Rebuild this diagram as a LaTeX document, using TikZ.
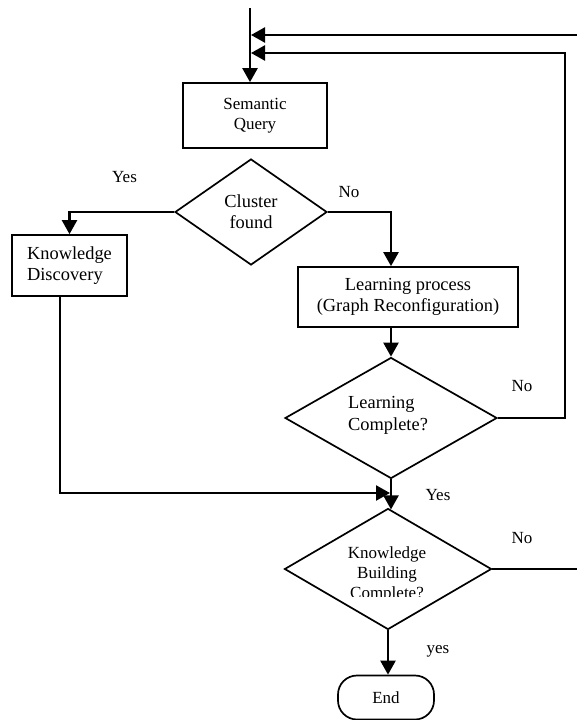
\documentclass[tikz,border=0pt]{standalone}
\usepackage{fontspec}
\setmainfont{Liberation Serif}
\usetikzlibrary{shapes.geometric,arrows.meta}

\tikzset{
  shapeline/.style={draw, line width=1.7pt, inner sep=0pt},
  box/.style={shapeline, rectangle, align=center},
  decision/.style={shapeline, diamond, align=center},
  terminal/.style={shapeline, rectangle, rounded corners=19pt},
  flow/.style={line width=2.3pt, -{Triangle[length=14pt,width=15pt]}},
  wire/.style={line width=2.3pt},
  big/.style={font=\fontsize{18.4}{21}\selectfont},
  mid/.style={font=\fontsize{17}{20}\selectfont},
  tag/.style={font=\fontsize{17}{20}\selectfont, inner sep=0pt},
}

\begin{document}
\begin{tikzpicture}[x=1pt,y=-1pt]
\useasboundingbox (0,0) rectangle (577,720);

% process boxes and decisions
\node[box, mid, minimum width=144pt, minimum height=65pt] (sq) at (255,115.5) {Semantic\\Query};
\node[decision, big, minimum width=152pt, minimum height=106pt] (cf) at (251,212) {Cluster\\found};
\node[box, big, align=left, minimum width=115pt, minimum height=61pt] (kd) at (69.5,265.5) {Knowledge\\Discovery};
\node[box, big, minimum width=220pt, minimum height=60pt] (lp) at (408,297) {Learning process\\(Graph Reconfiguration)};
\node[decision, minimum width=212pt, minimum height=121pt] (lc) at (391,418) {};
\node[big, font=\fontsize{18.4}{22}\selectfont, align=left, anchor=west, inner sep=0pt] (lctext) at (348,415) {Learning\\Complete?};
\node[decision, minimum width=207pt, minimum height=121pt] (kb) at (388,569) {};
\begin{scope}
  \clip (280,535) rectangle (495,596);
  \node[mid, align=center, inner sep=0pt] (kbtext) at (387,574) {Knowledge\\Building\\Complete?};
\end{scope}
\node[terminal, mid, minimum width=96pt, minimum height=44pt] (stop) at (386,697.5) {End};

% free ends of the connectors
\coordinate (entry) at (250,8);
\coordinate (loopA) at (577,35);
\coordinate (loopB) at (565,53);
\coordinate (join) at (60,493);

% connectors
\draw[flow] (entry) -- (entry |- sq.north);
\draw[flow] (loopA) -- ([xshift=1pt]loopA -| entry);
\draw[flow] (lc.east) -| (loopB) -- ([xshift=1pt]loopB -| entry);
\draw[flow] (cf.west) -| (kd.north);
\draw[flow] (cf.east) -| (lc.north |- lp.north);
\draw[flow] (lc.north |- lp.south) -- (lc.north);
\draw[flow] (kd.south -| join) -- (join) -- ([xshift=-1pt]join -| lc.south);
\draw[flow, shorten >=-1.8pt] (lc.south) -- (lc.south |- kb.north);
\draw[wire] (kb.east) -- (kb.east -| loopA);
\draw[flow] (kb.south) -- (kb.south |- stop.north);

% branch labels
\node[tag] (yesA) at (124.5,177) {Yes};
\node[tag] (noA) at (349,192) {No};
\node[tag] (noB) at (522,386) {No};
\node[tag] (yesB) at (438,495) {Yes};
\node[tag] (noC) at (522,538) {No};
\node[tag] (yesC) at (438,651) {yes};
\end{tikzpicture}
\end{document}
